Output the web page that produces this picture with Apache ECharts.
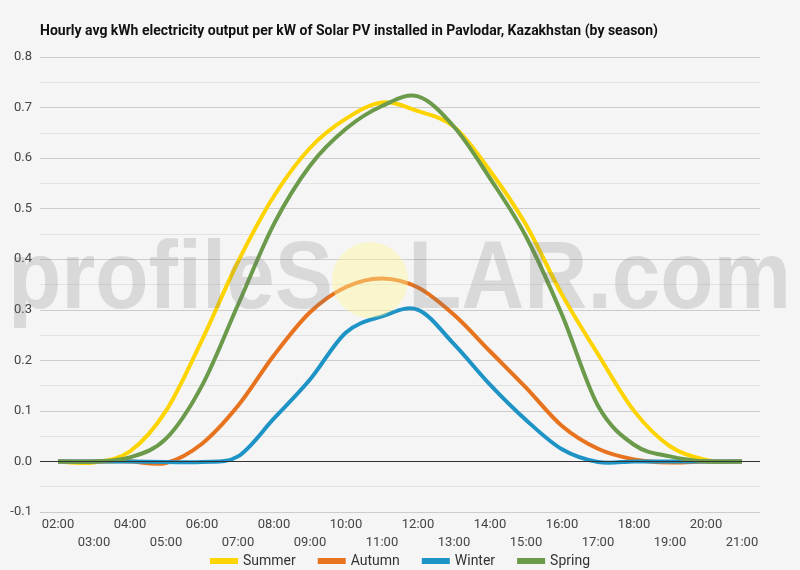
<!DOCTYPE html>
<html>
<head>
<meta charset="utf-8">
<script src="https://cdn.jsdelivr.net/npm/echarts@6/dist/echarts.min.js"></script>
<style>
  html, body { margin: 0; padding: 0; background: #f5f5f5; }
  #main { width: 800px; height: 570px; }
</style>
</head>
<body>
<div id="main"></div>
<script>
// Data
var hours = ['02:00', '03:00', '04:00', '05:00', '06:00', '07:00', '08:00', '09:00', '10:00', '11:00',
  '12:00', '13:00', '14:00', '15:00', '16:00', '17:00', '18:00', '19:00', '20:00', '21:00'];
var summer = [0, -0.002, 0.02, 0.1, 0.24, 0.395, 0.525, 0.62, 0.678, 0.71,
  0.693, 0.662, 0.575, 0.468, 0.33, 0.212, 0.1, 0.03, 0.003, 0];
var autumn = [0, 0, 0, -0.003, 0.035, 0.11, 0.21, 0.295, 0.345, 0.362,
  0.344, 0.29, 0.218, 0.146, 0.07, 0.025, 0.004, -0.002, 0, 0];
var winter = [0, 0, 0, -0.001, -0.001, 0.01, 0.085, 0.162, 0.255, 0.287,
  0.3, 0.232, 0.152, 0.082, 0.024, -0.001, 0, 0, 0, 0];
var spring = [0, 0, 0.008, 0.045, 0.15, 0.31, 0.47, 0.585, 0.658, 0.703,
  0.722, 0.662, 0.56, 0.445, 0.29, 0.11, 0.033, 0.01, 0, 0];

var seasonNames = ['Summer', 'Autumn', 'Winter', 'Spring'];
var seasonColors = ['#fdd400', '#e8731f', '#1e93c6', '#6a9a4a'];
var seasonData = [summer, autumn, winter, spring];

var myChart = echarts.init(document.getElementById('main'));

/**
 * @name splinePath
 * @desc builds a catmull-rom curve through the hourly points, in pixel space
 */
function splinePath(values, api) {
  var pts = values.map(function (v, i) { return api.coord([i, v]); });
  var n = pts.length;
  var d = 'M' + pts[0][0] + ' ' + pts[0][1];
  for (var i = 0; i < n - 1; i++) {
    var p0 = pts[Math.max(i - 1, 0)];
    var p1 = pts[i];
    var p2 = pts[i + 1];
    var p3 = pts[Math.min(i + 2, n - 1)];
    var c1x = p1[0] + (p2[0] - p0[0]) / 6;
    var c1y = p1[1] + (p2[1] - p0[1]) / 6;
    var c2x = p2[0] - (p3[0] - p1[0]) / 6;
    var c2y = p2[1] - (p3[1] - p1[1]) / 6;
    d += ' C' + c1x + ' ' + c1y + ' ' + c2x + ' ' + c2y + ' ' + p2[0] + ' ' + p2[1];
  }
  return d;
}

function makeSeries(i) {
  var values = seasonData[i];
  return {
    name: seasonNames[i],
    type: 'custom',
    clip: false,
    itemStyle: { color: seasonColors[i] },
    encode: { x: 0, y: 1 },
    data: values.map(function (v, k) { return [k, v]; }),
    renderItem: function (params, api) {
      if (params.dataIndex !== 0) {
        return null;
      }
      return {
        type: 'path',
        shape: { pathData: splinePath(values, api) },
        style: { fill: 'none', stroke: seasonColors[i], lineWidth: 4 }
      };
    }
  };
}

var series = [makeSeries(0), makeSeries(1), makeSeries(2), makeSeries(3)];
// zero reference line, drawn under the curves
series.unshift({
  name: 'zero',
  type: 'line',
  data: hours.map(function () { return 0; }),
  symbol: 'none',
  z: 1,
  lineStyle: { width: 0 },
  markLine: {
    silent: true,
    symbol: ['none', 'none'],
    label: { show: false },
    lineStyle: { color: '#333', width: 1, type: 'solid' },
    data: [{ yAxis: 0 }]
  }
});

var option = {
  backgroundColor: '#f5f5f5',
  animation: false,
  textStyle: { fontFamily: 'Roboto' },
  title: {
    text: 'Hourly avg kWh electricity output per kW of Solar PV installed in Pavlodar, Kazakhstan (by season)',
    left: 35,
    top: 19,
    textStyle: { fontFamily: 'Roboto', fontSize: 14, fontWeight: 'bold', color: '#111' }
  },
  legend: {
    top: 549,
    left: 'center',
    icon: 'rect',
    itemWidth: 28,
    itemHeight: 6,
    itemGap: 22,
    textStyle: { fontFamily: 'Roboto', fontSize: 14, color: '#333' },
    data: seasonNames
  },
  grid: { left: 40, right: 40, top: 57, bottom: 58 },
  xAxis: {
    type: 'category',
    data: hours,
    boundaryGap: true,
    axisLine: { show: false },
    axisTick: { show: false },
    axisLabel: {
      interval: 0,
      margin: 4,
      color: '#444',
      fontSize: 13,
      lineHeight: 18,
      formatter: function (value, index) {
        return index % 2 === 1 ? '\n' + value : value;
      }
    }
  },
  yAxis: {
    type: 'value',
    min: -0.1,
    max: 0.8,
    interval: 0.1,
    axisLine: { show: false },
    axisTick: { show: false },
    axisLabel: {
      color: '#444',
      fontSize: 13,
      margin: 8,
      formatter: function (v) { return v.toFixed(1); }
    },
    splitLine: { lineStyle: { color: '#cccccc', width: 1 } },
    minorTick: { show: false, splitNumber: 2 },
    minorSplitLine: { show: true, lineStyle: { color: '#e2e2e2', width: 1 } }
  },
  graphic: [
    {
      type: 'text',
      x: 8,
      y: 281,
      scaleX: 0.9,
      z: 100,
      silent: true,
      style: {
        text: 'profileS',
        fontFamily: 'Liberation Sans',
        fontSize: 97,
        fontWeight: 'bold',
        fill: 'rgba(120,120,120,0.22)',
        align: 'left',
        verticalAlign: 'middle'
      }
    },
    {
      type: 'circle',
      x: 370,
      y: 280,
      z: 100,
      silent: true,
      shape: { cx: 0, cy: 0, r: 38 },
      style: { fill: 'rgba(255,245,150,0.42)' }
    },
    {
      type: 'text',
      x: 408,
      y: 281,
      scaleX: 0.9,
      z: 100,
      silent: true,
      style: {
        text: 'LAR.com',
        fontFamily: 'Liberation Sans',
        fontSize: 97,
        fontWeight: 'bold',
        fill: 'rgba(120,120,120,0.22)',
        align: 'left',
        verticalAlign: 'middle'
      }
    }
  ],
  series: series
};

myChart.setOption(option);
</script>
</body>
</html>
